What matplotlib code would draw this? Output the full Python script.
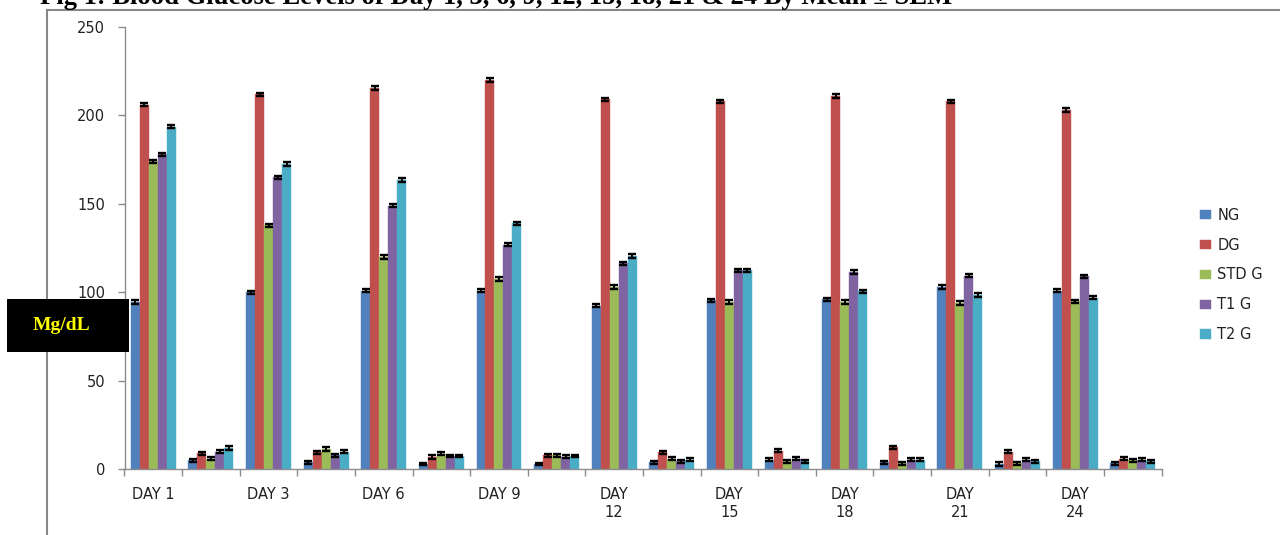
import matplotlib
matplotlib.use('Agg')
import matplotlib.pyplot as plt
from matplotlib.lines import Line2D
from matplotlib.patches import Rectangle
import numpy as np

# ---------------- data ----------------
categories = ["DAY 1", "", "DAY 3", "", "DAY 6", "", "DAY 9", "",
              "DAY\n12", "", "DAY\n15", "", "DAY\n18", "", "DAY\n21", "",
              "DAY\n24", ""]
series_names = ["NG", "DG", "STD G", "T1 G", "T2 G"]

ng_vals = [94.5, 5, 100, 4, 101, 3, 101, 3, 92.5, 4, 95.5, 5.5, 96, 4, 103, 3, 101, 3.5]
dg_vals = [206, 9, 212, 9.5, 215.5, 7, 220, 8, 209, 9.5, 208, 10.5, 211, 12.5, 208, 10, 203, 6]
std_vals = [174, 6, 138, 11.5, 120, 8.7, 107.5, 8, 103, 6, 94.5, 4.5, 94.5, 3.5, 94, 3.5, 95, 5]
t1_vals = [178, 10, 165, 8, 149, 7.5, 127, 7, 116.5, 4.5, 112.5, 6, 111.5, 5.5, 109.5, 5.5, 109, 5.5]
t2_vals = [193.5, 12, 172.5, 10, 163.5, 7.5, 139, 7.5, 120.5, 5.5, 112.5, 4.5, 100.5, 5.5, 98.5, 4.5, 97, 4.5]

err_ng = [1.0, 0.9, 0.9, 0.9, 0.9, 0.8, 0.9, 0.8, 0.9, 0.9, 0.9, 0.9, 1.0, 0.9, 0.9, 0.9, 0.9, 0.9]
err_dg = [0.9, 0.9, 0.9, 0.9, 0.9, 0.9, 0.9, 0.9, 0.9, 0.9, 0.9, 0.9, 0.9, 0.9, 0.9, 0.9, 0.9, 1.0]
err_std = [0.9, 0.9, 0.9, 0.9, 0.9, 0.9, 0.9, 0.9, 0.9, 0.8, 0.9, 0.8, 0.9, 0.8, 0.9, 0.8, 0.9, 0.8]
err_t1 = [0.9, 0.9, 0.9, 0.9, 0.9, 0.8, 0.9, 0.8, 0.9, 0.8, 0.9, 0.9, 0.9, 0.8, 0.9, 0.8, 0.9, 0.8]
err_t2 = [0.9, 0.9, 0.9, 0.8, 0.9, 0.8, 0.9, 0.8, 0.9, 0.8, 0.9, 0.8, 0.9, 0.8, 0.9, 0.8, 0.9, 0.8]

yticks = [0, 50, 100, 150, 200, 250]
title_text = "Fig 1: Blood Glucose Levels of Day 1, 3, 6, 9, 12, 15, 18, 21 & 24 By Mean \u00b1 SEM"
unit_text = "Mg/dL"

colors = ["#4F81BD", "#C0504D", "#9BBB59", "#8064A2", "#4BACC6"]

# ---------------- figure ----------------
W, H = 1280, 535
fig = plt.figure(figsize=(W / 100, H / 100), dpi=100)
fig.patch.set_facecolor("white")

ax_left = 124.5 / W
ax_bottom = 1 - 469.3 / H
ax_w = 1037 / W
ax_h = 442.4 / H
ax = fig.add_axes([ax_left, ax_bottom, ax_w, ax_h])

values = [ng_vals, dg_vals, std_vals, t1_vals, t2_vals]
errors = [err_ng, err_dg, err_std, err_t1, err_t2]
x = np.arange(len(categories))
bw = 0.156
for i, (name, vals, errs, c) in enumerate(zip(series_names, values, errors, colors)):
    ax.bar(x + (i - 2) * bw, vals, width=bw, color=c, label=name, zorder=2,
           edgecolor=c, linewidth=0.3)
    ax.errorbar(x + (i - 2) * bw, vals, yerr=errs, fmt='none', ecolor='black',
                elinewidth=1.4, capsize=3.2, capthick=1.7, zorder=3)

ax.set_xlim(-0.5, len(categories) - 0.5)
ax.set_ylim(0, 250)

spine_col = "#8C8C8C"
for s in ["top", "right"]:
    ax.spines[s].set_visible(False)
ax.spines["left"].set_color(spine_col)
ax.spines["bottom"].set_color(spine_col)
ax.spines["left"].set_linewidth(1.0)
ax.spines["bottom"].set_linewidth(1.0)

ax.set_yticks(yticks)
ax.set_yticklabels([str(v) for v in yticks])
ax.tick_params(axis='y', direction='out', length=5, width=1, color=spine_col,
               pad=9, labelsize=10.5, labelcolor="#222222")

# category boundaries as major ticks, labels on minor ticks
ax.set_xticks(np.arange(-0.5, len(categories), 1.0))
ax.set_xticklabels([])
ax.set_xticks(x, minor=True)
ax.set_xticklabels(categories, minor=True)
ax.tick_params(axis='x', which='major', direction='out', length=5, width=1, color=spine_col)
ax.tick_params(axis='x', which='minor', length=0, pad=13, labelsize=10.5, labelcolor="#222222")
for lab in ax.get_xticklabels(minor=True):
    lab.set_multialignment('center')

for lab in ax.get_yticklabels() + ax.get_xticklabels(minor=True):
    lab.set_fontfamily("DejaVu Sans")

# legend
leg = fig.legend(loc='center left', bbox_to_anchor=(1193 / W, 1 - 275 / H),
                 frameon=False, fontsize=10.5, handlelength=0.72, handleheight=0.62,
                 handletextpad=0.45, labelspacing=1.02, borderpad=0)
for t in leg.get_texts():
    t.set_color("#222222")

# chart frame lines (left & top)
fig.add_artist(Line2D([46.5 / W, 46.5 / W], [0, 1 - 9.5 / H], transform=fig.transFigure,
                      color="#888888", lw=1.5))
fig.add_artist(Line2D([46.5 / W, 1.0], [1 - 9.5 / H, 1 - 9.5 / H], transform=fig.transFigure,
                      color="#888888", lw=1.5))

# title (cut off at top, as in the source figure)
fig.text(40 / W, 1 - 4.5 / H, title_text, ha='left', va='baseline',
         fontsize=19.2, fontweight='bold', family='Liberation Serif', color='black')

# unit box
fig.add_artist(Rectangle((7 / W, 1 - 352 / H), 122 / W, 53 / H, transform=fig.transFigure,
                         facecolor='black', edgecolor='none', zorder=10))
fig.text(61 / W, 1 - 325 / H, unit_text, ha='center', va='center', fontsize=14,
         fontweight='bold', family='Liberation Serif', color='#FFFF00', zorder=11)

fig.savefig("out.png", dpi=100, facecolor="white")
